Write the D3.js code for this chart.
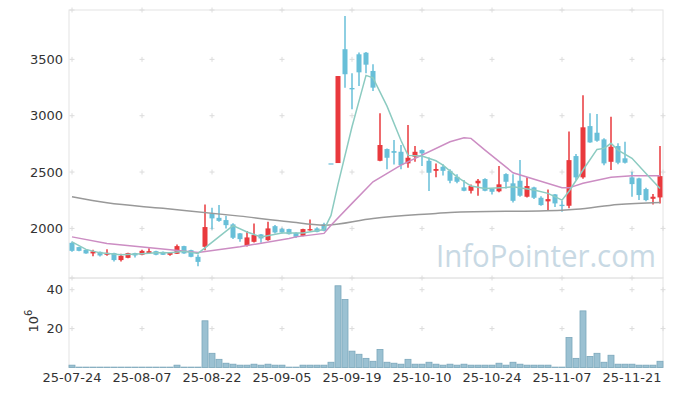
<!DOCTYPE html>
<html>
<head>
<meta charset="utf-8">
<script src="https://cdn.jsdelivr.net/npm/d3@7"></script>
<style>
body { margin: 0; background: #fff; }
text { font-family: "DejaVu Sans", sans-serif; }
</style>
</head>
<body>
<div id="chart"></div>
<script>
// trading days (yy-mm-dd)
var dates = ["25-07-24","25-07-25","25-07-28","25-07-29","25-07-30","25-07-31",
  "25-08-01","25-08-04","25-08-05","25-08-06","25-08-07","25-08-08","25-08-11","25-08-12","25-08-13","25-08-14",
  "25-08-18","25-08-19","25-08-20","25-08-21","25-08-22","25-08-25","25-08-26","25-08-27","25-08-28","25-08-29",
  "25-09-01","25-09-02","25-09-03","25-09-04","25-09-05","25-09-08","25-09-09","25-09-10","25-09-11","25-09-12",
  "25-09-15","25-09-16","25-09-17","25-09-18","25-09-19","25-09-22","25-09-23","25-09-24","25-09-25","25-09-26",
  "25-09-29","25-09-30","25-10-01","25-10-02","25-10-10","25-10-13","25-10-14","25-10-15","25-10-16","25-10-17",
  "25-10-20","25-10-21","25-10-22","25-10-23","25-10-24","25-10-27","25-10-28","25-10-29","25-10-30","25-10-31",
  "25-11-03","25-11-04","25-11-05","25-11-06","25-11-07","25-11-10","25-11-11","25-11-12","25-11-13","25-11-14",
  "25-11-17","25-11-18","25-11-19","25-11-20","25-11-21","25-11-24","25-11-25","25-11-26","25-11-27"];

var open  = [1872,1834,1810,1778,1792,1766,1781,1719,1739,1781,1766,1781,1798,1792,1766,1775,1843,1807,1748,1837,
  2133,2094,2074,2036,1956,1846,1881,1947,1896,2020,1994,1994,1961,1934,1982,2000,2036,2577,2580,3590,
  3246,3545,3559,3397,2600,2704,2686,2680,2577,2636,2695,2600,2511,2547,2511,2458,2364,2334,2400,2438,
  2352,2329,2482,2400,2423,2281,2364,2272,2240,2302,2210,2201,2642,2453,2908,2849,2790,2591,2731,2622,
  2453,2444,2349,2263,2275];
var high  = [1884,1838,1812,1810,1795,1814,1783,1776,1785,1783,1810,1825,1801,1795,1786,1858,1846,1810,1769,2213,
  2183,2207,2112,2045,1960,1976,2044,1950,2059,2030,2005,1998,1965,1996,2080,2010,2050,2577,3352,3885,
  3376,3560,3565,3456,3021,2710,2784,2740,2917,2731,2700,2630,2577,2570,2525,2480,2429,2390,2438,2445,
  2355,2553,2490,2480,2606,2453,2370,2285,2346,2305,2245,2861,2660,3181,3021,3015,2800,2991,2755,2769,
  2503,2450,2360,2305,2731];
var low   = [1792,1798,1776,1754,1750,1757,1707,1707,1735,1742,1762,1778,1762,1763,1757,1772,1775,1745,1665,1807,
  1991,2060,2000,1905,1881,1840,1875,1872,1890,1955,1955,1945,1915,1930,1980,1965,1975,2577,2580,3249,
  3057,3263,3376,3219,2595,2524,2568,2524,2538,2591,2553,2331,2453,2470,2400,2400,2330,2310,2290,2330,
  2300,2320,2355,2230,2280,2275,2260,2200,2156,2190,2147,2180,2430,2440,2760,2770,2560,2518,2570,2575,
  2281,2251,2240,2213,2222];
var close = [1801,1801,1778,1796,1760,1783,1719,1757,1781,1760,1801,1798,1766,1766,1783,1843,1778,1748,1703,2012,
  2089,2067,2029,1917,1905,1920,1941,1911,2000,1964,1964,1949,1925,1994,1994,1970,1979,2577,3352,3368,
  3234,3385,3453,3249,2740,2627,2671,2562,2627,2680,2666,2494,2527,2511,2423,2414,2334,2376,2423,2334,
  2325,2391,2414,2245,2290,2376,2272,2207,2260,2222,2198,2606,2453,2897,2763,2778,2577,2725,2583,2583,
  2393,2296,2251,2281,2464];

// volume, 10^6 shares
var volume = [1.2,0.2,0.2,0.2,0.2,0.2,0.2,0.2,0.2,0.2,0.2,0.2,0.2,0.2,0.2,1.2,0.2,0.2,0.2,24,
  7.3,4.2,2.2,1.7,1.2,1.2,1.7,1.2,1.7,1.2,1.2,0.2,0.2,1.2,1.2,1.2,1.2,2.7,42,34.9,
  8.4,6.8,4.7,3.2,9.3,2.7,2.2,1.7,4.2,1.7,1.7,2.7,1.7,1.2,1.7,1.2,1.7,1.2,1.2,1.2,
  1.2,2.2,1.2,2.7,1.7,1.2,1.2,1.2,1.2,0.2,0.2,15.4,4.7,29.1,5.7,7.3,2.7,6.3,1.7,1.7,
  1.7,1.2,1.2,1.2,3.2];

// moving averages read at their bends
var ma5 = [["25-07-24",1881],["25-07-28",1814],["25-07-30",1783],["25-08-04",1766],["25-08-07",1775],
  ["25-08-11",1783],["25-08-13",1785],["25-08-18",1798],["25-08-20",1778],["25-08-27",2025],["25-08-29",1968],
  ["25-09-02",1925],["25-09-05",1960],["25-09-10",1960],["25-09-15",1990],["25-09-16",2115],["25-09-17",2390],
  ["25-09-19",2902],["25-09-23",3358],["25-09-24",3336],["25-09-26",3085],["25-09-30",2780],["25-10-01",2648],
  ["25-10-10",2642],["25-10-14",2600],["25-10-15",2562],["25-10-17",2458],["25-10-21",2376],["25-10-23",2355],
  ["25-10-28",2364],["25-10-29",2370],["25-11-03",2340],["25-11-05",2311],["25-11-07",2251],["25-11-10",2330],
  ["25-11-12",2518],["25-11-14",2701],["25-11-17",2710],["25-11-18",2755],["25-11-19",2695],["25-11-21",2622],
  ["25-11-25",2488],["25-11-27",2355]];
var ma20 = [["25-07-24",1925],["25-07-31",1867],["25-08-20",1787],["25-08-28",1837],["25-09-08",1911],
  ["25-09-09",1925],["25-09-15",1956],["25-09-16",2029],["25-09-19",2222],["25-09-24",2414],["25-09-30",2562],
  ["25-10-16",2769],["25-10-20",2805],["25-10-21",2799],["25-10-23",2695],["25-10-29",2494],["25-11-07",2360],
  ["25-11-10",2360],["25-11-12",2400],["25-11-18",2453],["25-11-21",2467],["25-11-27",2467]];
var ma120 = [["25-07-24",2281],["25-07-31",2227],["25-08-12",2178],["25-08-28",2109],["25-09-08",2059],
  ["25-09-15",2029],["25-09-24",2089],["25-10-14",2133],["25-10-16",2142],["25-11-07",2162],["25-11-11",2169],
  ["25-11-19",2213],["25-11-27",2231]];

var tickDates = ["25-07-24","25-08-07","25-08-22","25-09-05","25-09-19","25-10-10","25-10-24","25-11-07","25-11-21"];
var priceTicks = [2000, 2500, 3000, 3500];
var volTicks = [20, 40];

var W = 673, H = 396;
var pLeft = 69, pRight = 663, pTop = 10, pMid = 278, pBottom = 367.5;

var svg = d3.select("#chart").append("svg")
    .attr("width", W)
    .attr("height", H);

var x = d3.scaleBand().domain(dates).range([68.5, 663.5]);
var cx = function(d) { return x(d) + x.bandwidth() / 2; };
var y = d3.scaleLinear().domain([1560, 3938]).range([pMid, pTop]);
var yv = d3.scaleLinear().domain([0, 46]).range([pBottom, pMid]);

// watermark
svg.append("text")
  .attr("x", 436).attr("y", 267)
  .attr("textLength", 220).attr("lengthAdjust", "spacingAndGlyphs")
  .style("font-family", "'Open Sans', sans-serif")
  .style("font-size", "31px")
  .style("fill", "#c8d9e4")
  .text("InfoPointer.com");

// panel frames
svg.append("rect").attr("x", pLeft).attr("y", pTop).attr("width", pRight - pLeft).attr("height", pMid - pTop)
  .attr("fill", "none").attr("stroke", "#e4e4e4");
svg.append("rect").attr("x", pLeft).attr("y", pMid).attr("width", pRight - pLeft).attr("height", pBottom - pMid)
  .attr("fill", "none").attr("stroke", "#e4e4e4");

// little crosses where the grid would be
var crossPts = [];
tickDates.forEach(function(t) {
  priceTicks.forEach(function(v) { crossPts.push([cx(t), y(v)]); });
  volTicks.forEach(function(v) { crossPts.push([cx(t), yv(v)]); });
  crossPts.push([cx(t), pTop]);
  crossPts.push([cx(t), pMid]);
});
priceTicks.forEach(function(v) { crossPts.push([pRight, y(v)]); });
volTicks.forEach(function(v) { crossPts.push([pRight, yv(v)]); });
var cross = svg.append("g").attr("stroke", "#dcdcdc").attr("stroke-width", 1);
crossPts.forEach(function(p) {
  cross.append("line").attr("x1", p[0] - 2.5).attr("x2", p[0] + 2.5).attr("y1", p[1]).attr("y2", p[1]);
  cross.append("line").attr("x1", p[0]).attr("x2", p[0]).attr("y1", p[1] - 2.5).attr("y2", p[1] + 2.5);
});

// volume bars
svg.append("g").selectAll("rect").data(dates).enter().append("rect")
  .attr("x", function(d) { return x(d) + 0.5; })
  .attr("width", x.bandwidth() - 1)
  .attr("y", function(d, i) { return yv(volume[i]); })
  .attr("height", function(d, i) { return pBottom - yv(volume[i]); })
  .attr("fill", "#9bc1d2")
  .attr("stroke", "#7ba7bb")
  .attr("stroke-width", 0.8);

// candles
var up = "#e9393d", down = "#68bfd8";
var candle = svg.append("g").selectAll("g").data(dates).enter().append("g");
candle.append("line")
  .attr("x1", cx).attr("x2", cx)
  .attr("y1", function(d, i) { return y(high[i]); })
  .attr("y2", function(d, i) { return y(low[i]); })
  .attr("stroke", function(d, i) { return close[i] > open[i] ? up : down; })
  .attr("stroke-width", 1.5);
candle.append("rect")
  .attr("x", function(d) { return cx(d) - 2.5; })
  .attr("width", 5)
  .attr("y", function(d, i) { return y(Math.max(open[i], close[i])); })
  .attr("height", function(d, i) { return Math.max(1.2, Math.abs(y(open[i]) - y(close[i]))); })
  .attr("fill", function(d, i) { return close[i] > open[i] ? up : down; });

// moving average lines
var line = d3.line()
  .x(function(d) { return cx(d[0]); })
  .y(function(d) { return y(d[1]); });
svg.append("path").datum(ma120).attr("d", line.curve(d3.curveMonotoneX))
  .attr("fill", "none").attr("stroke", "#999").attr("stroke-width", 1.5);
svg.append("path").datum(ma20).attr("d", line.curve(d3.curveLinear))
  .attr("fill", "none").attr("stroke", "#cc8dc3").attr("stroke-width", 1.5);
svg.append("path").datum(ma5).attr("d", line)
  .attr("fill", "none").attr("stroke", "#8ccbc1").attr("stroke-width", 1.5);

// axes
var yAxis = svg.append("g").attr("transform", "translate(" + pLeft + ",0)")
  .call(d3.axisLeft(y).tickValues(priceTicks).tickFormat(d3.format("d")).tickSize(0).tickPadding(6));
var vAxis = svg.append("g").attr("transform", "translate(" + pLeft + ",0)")
  .call(d3.axisLeft(yv).tickValues(volTicks).tickFormat(d3.format("d")).tickSize(0).tickPadding(6));
var xAxis = svg.append("g").attr("transform", "translate(0," + pBottom + ")")
  .call(d3.axisBottom(x).tickValues(tickDates).tickSize(0).tickPadding(5));
[yAxis, vAxis, xAxis].forEach(function(a) {
  a.select(".domain").remove();
  a.selectAll("text").style("font-size", "13px").style("fill", "#333")
    .style("font-family", "'DejaVu Sans', sans-serif");
});

// unit label
var unit = svg.append("text")
  .attr("transform", "translate(38,321) rotate(-90)")
  .attr("text-anchor", "middle")
  .style("font-size", "13px").style("fill", "#333");
unit.append("tspan").text("10");
unit.append("tspan").attr("dy", -6).style("font-size", "10px").text("6");
</script>
</body>
</html>
